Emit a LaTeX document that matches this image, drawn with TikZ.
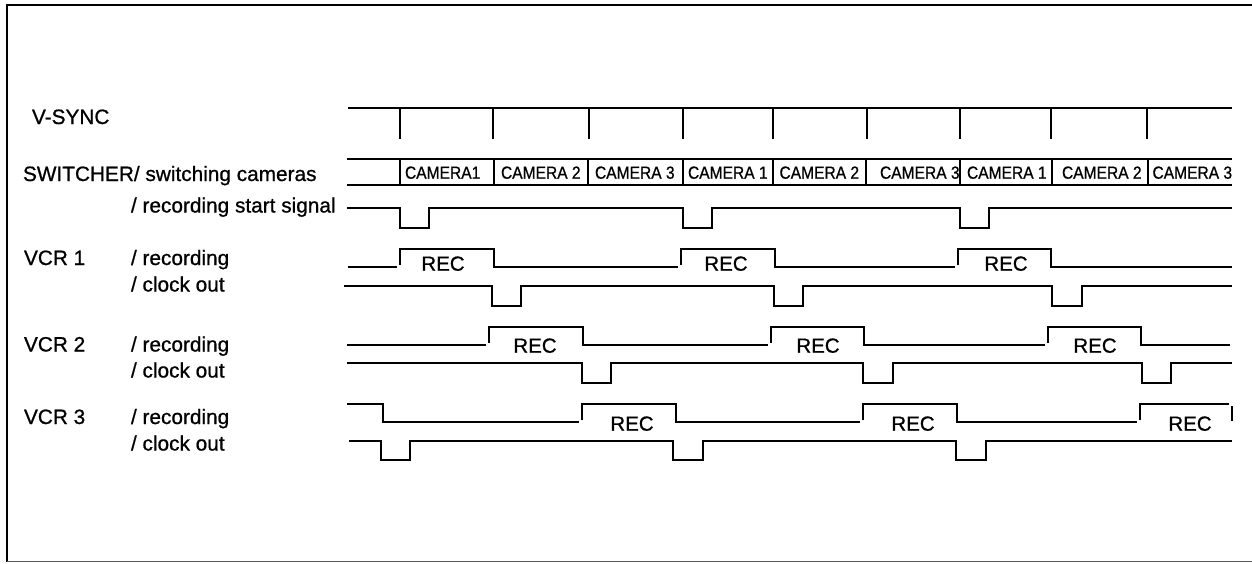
\documentclass[tikz,border=0pt]{standalone}
\usepackage{fontspec}
\setmainfont[RawFeature={embolden=0.8}]{Liberation Sans}
\usepackage{graphicx}
\newcommand{\biglbl}[1]{{\fontsize{20.8}{22}\selectfont #1}}
\newcommand{\camlbl}[1]{\scalebox{0.89}[1]{\fontsize{17.5}{20}\selectfont #1}}
\begin{document}
\begin{tikzpicture}[x=1pt,y=-1pt,
  sig/.style={line width=1.1pt, line join=miter},
  vtick/.style={line width=1.7pt},
  lbl/.style={inner sep=0pt, outer sep=0pt, anchor=base west},
  cam/.style={inner sep=0pt, outer sep=0pt, anchor=base west},
  rec/.style={inner sep=0pt, outer sep=0pt, anchor=base, font=\fontsize{20.5}{22}\selectfont}]
\useasboundingbox (0,0) rectangle (1252,563);
% frame
\draw[line width=2.6pt] (7,562) -- (7,5) -- (1252,5);
\draw[line width=1pt, black!65] (7,561) -- (1252,561);
% left labels
\node[lbl] (lvs) at (32,124) {\biglbl{V-SYNC}};
\node[lbl] (lsw) at (23,181) {\biglbl{SWITCHER/ switching cameras}};
\node[lbl] (lrs) at (131,212.5) {\biglbl{/ recording start signal}};
\node[lbl] (lv1) at (24,265) {\biglbl{VCR 1}};
\node[lbl] (lv1r) at (131,265) {\biglbl{/ recording}};
\node[lbl] (lv1c) at (131,291.5) {\biglbl{/ clock out}};
\node[lbl] (lv2) at (24,351.5) {\biglbl{VCR 2}};
\node[lbl] (lv2r) at (131,351.5) {\biglbl{/ recording}};
\node[lbl] (lv2c) at (131,377.5) {\biglbl{/ clock out}};
\node[lbl] (lv3) at (24,424) {\biglbl{VCR 3}};
\node[lbl] (lv3r) at (131,424) {\biglbl{/ recording}};
\node[lbl] (lv3c) at (131,450.5) {\biglbl{/ clock out}};
% V-SYNC
\draw[sig] (348,108) -- (1232,108);
\foreach \x in {400,493,589,683,773,867,960,1051,1147}
  \draw[vtick] (\x,108) -- (\x,139);
% camera row
\draw[sig] (347,159) -- (1232,159);
\draw[sig] (347,185) -- (1232,185);
\foreach \x in {400,494,588,683,773,866,960,1052,1148}
  \draw[sig] (\x,159) -- (\x,185);
\node[cam] (c1) at (405,178.7) {\camlbl{CAMERA1}};
\node[cam] (c2) at (501,178.7) {\camlbl{CAMERA 2}};
\node[cam] (c3) at (595,178.7) {\camlbl{CAMERA 3}};
\node[cam] (c4) at (688,178.7) {\camlbl{CAMERA 1}};
\node[cam] (c5) at (779.5,178.7) {\camlbl{CAMERA 2}};
\node[cam] (c6) at (880,178.7) {\camlbl{CAMERA 3}};
\node[cam] (c7) at (967,178.7) {\camlbl{CAMERA 1}};
\node[cam] (c8) at (1062,178.7) {\camlbl{CAMERA 2}};
\node[cam] (c9) at (1152.5,178.7) {\camlbl{CAMERA 3}};
% recording start signal
\draw[sig] (347,208) -- (400,208) -- (400,228) -- (429,228) -- (429,208) -- (683,208) -- (683,228) -- (712,228) -- (712,208) -- (960,208) -- (960,228) -- (989,228) -- (989,208) -- (1232,208);
% VCR1 recording
\draw[sig] (348,267) -- (397,267);
\draw[sig] (400,265) -- (400,249) -- (494,249) -- (494,267) -- (678,267);
\draw[sig] (681,265) -- (681,249) -- (775,249) -- (775,267) -- (955,267);
\draw[sig] (958,265) -- (958,249) -- (1051,249) -- (1051,267) -- (1232,267);
\node[rec] (r11) at (443,270.7) {REC};
\node[rec] (r12) at (726,270.7) {REC};
\node[rec] (r13) at (1006,270.7) {REC};
% VCR1 clock out
\draw[sig] (344,286) -- (492,286) -- (492,306) -- (521,306) -- (521,286) -- (774,286) -- (774,306) -- (803,306) -- (803,286) -- (1052,286) -- (1052,306) -- (1082,306) -- (1082,286) -- (1232,286);
% VCR2 recording
\draw[sig] (347,345) -- (486,345);
\draw[sig] (489,343) -- (489,327) -- (583,327) -- (583,345) -- (768,345);
\draw[sig] (771,343) -- (771,327) -- (864,327) -- (864,345) -- (1045,345);
\draw[sig] (1048,343) -- (1048,327) -- (1141,327) -- (1141,345) -- (1230,345);
\node[rec] (r21) at (535,352.7) {REC};
\node[rec] (r22) at (818,352.7) {REC};
\node[rec] (r23) at (1095,352.7) {REC};
% VCR2 clock out
\draw[sig] (347,363) -- (582,363) -- (582,383) -- (611,383) -- (611,363) -- (863,363) -- (863,383) -- (893,383) -- (893,363) -- (1142,363) -- (1142,383) -- (1171,383) -- (1171,363) -- (1232,363);
% VCR3 recording
\draw[sig] (347,404) -- (383,404) -- (383,422) -- (579,422);
\draw[sig] (582,420) -- (582,404) -- (676,404) -- (676,422) -- (860,422);
\draw[sig] (863,420) -- (863,404) -- (957,404) -- (957,422) -- (1137,422);
\draw[sig] (1140,420) -- (1140,404) -- (1229,404);
\draw[sig] (1232,406) -- (1232,421);
\node[rec] (r31) at (632,430.7) {REC};
\node[rec] (r32) at (913,430.7) {REC};
\node[rec] (r33) at (1190,430.7) {REC};
% VCR3 clock out
\draw[sig] (349,441) -- (381,441) -- (381,460) -- (410,460) -- (410,441) -- (673,441) -- (673,460) -- (703,460) -- (703,441) -- (956,441) -- (956,460) -- (986,460) -- (986,441) -- (1232,441);
\end{tikzpicture}
\end{document}
